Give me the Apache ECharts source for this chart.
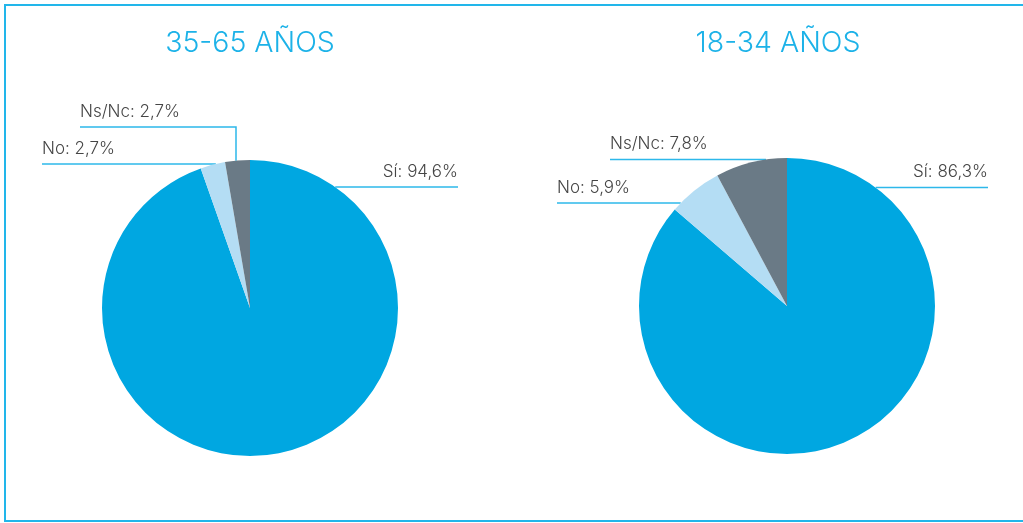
<!DOCTYPE html>
<html>
<head>
<meta charset="utf-8">
<script src="https://cdn.jsdelivr.net/npm/echarts@6/dist/echarts.min.js"></script>
<style>
  html, body { margin: 0; padding: 0; background: #fff; }
  #chart { width: 1023px; height: 523px; }
</style>
</head>
<body>
<div id="chart"></div>
<script>
// Respuesta por grupo de edad (%)
const categories = ['Sí', 'No', 'Ns/Nc'];
const groupTitles = ['35-65 AÑOS', '18-34 AÑOS'];
const values3565 = [94.6, 2.7, 2.7];
const values1834 = [86.3, 5.9, 7.8];
const sliceColors = ['#00a7e1', '#b4ddf4', '#6a7a86'];

const FONT = 'Inter, "Open Sans", sans-serif';

// Pie geometry in pixels
const pies = [
  { cx: 250, cy: 308, r: 148, titleX: 245 },
  { cx: 787, cy: 306, r: 148, titleX: 773 }
];

// Callout layout per pie and slice: line y, text end x, edge side, optional vertical drop x
const callouts = [
  [
    { lineY: 187, endX: 458, side: 'right' },
    { lineY: 164, endX: 42, side: 'left' },
    { lineY: 127, endX: 80, side: 'left', dropX: 236 }
  ],
  [
    { lineY: 187.5, endX: 988, side: 'right' },
    { lineY: 203, endX: 557, side: 'left' },
    { lineY: 159.5, endX: 610, side: 'left' }
  ]
];

function fmt(v) { return v.toFixed(1).replace('.', ','); }

function edgeX(p, y, side) {
  const dy = y - p.cy;
  const dx = Math.sqrt(Math.max(0, p.r * p.r - dy * dy));
  return side === 'right' ? p.cx + dx : p.cx - dx;
}

function makeLayout(seriesIndex) {
  return function (params) {
    const p = pies[seriesIndex];
    const c = callouts[seriesIndex][params.dataIndex];
    let pts;
    if (c.dropX !== undefined) {
      const dy = Math.sqrt(p.r * p.r - (c.dropX - p.cx) * (c.dropX - p.cx));
      pts = [[c.dropX, p.cy - dy], [c.dropX, c.lineY], [c.endX, c.lineY]];
    } else {
      const sx = edgeX(p, c.lineY, c.side);
      pts = [[sx, c.lineY], [(sx + c.endX) / 2, c.lineY], [c.endX, c.lineY]];
    }
    return {
      x: c.endX,
      y: c.lineY - 7,
      align: c.side === 'right' ? 'right' : 'left',
      verticalAlign: 'bottom',
      labelLinePoints: pts
    };
  };
}

function makeSeries(values, idx) {
  const p = pies[idx];
  return {
    type: 'pie',
    center: [p.cx, p.cy],
    radius: p.r,
    startAngle: 90,
    clockwise: true,
    silent: true,
    animation: false,
    data: categories.map((c, i) => ({
      name: c,
      value: values[i],
      itemStyle: { color: sliceColors[i] }
    })),
    label: {
      show: true,
      position: 'outside',
      formatter: (d) => d.name + ': ' + fmt(d.value) + '%',
      color: '#454545',
      fontSize: 17,
      fontWeight: 300,
      fontFamily: FONT
    },
    labelLine: {
      show: true,
      length: 10,
      length2: 10,
      lineStyle: { color: '#2db8ea', width: 1.5 }
    },
    labelLayout: makeLayout(idx)
  };
}

const chart = echarts.init(document.getElementById('chart'), null, { renderer: 'canvas' });

chart.setOption({
  backgroundColor: '#ffffff',
  title: groupTitles.map((t, i) => ({
    text: t,
    left: pies[i].titleX,
    top: 24,
    textAlign: 'center',
    textStyle: {
      color: '#1cb2e8',
      fontSize: 28.5,
      fontWeight: 300,
      fontFamily: FONT
    }
  })),
  graphic: [{
    type: 'rect',
    shape: { x: 5, y: 5, width: 1040, height: 516 },
    style: { fill: 'none', stroke: '#22b6ea', lineWidth: 2 },
    silent: true,
    z: 100
  }],
  series: [makeSeries(values3565, 0), makeSeries(values1834, 1)]
});
</script>
</body>
</html>
